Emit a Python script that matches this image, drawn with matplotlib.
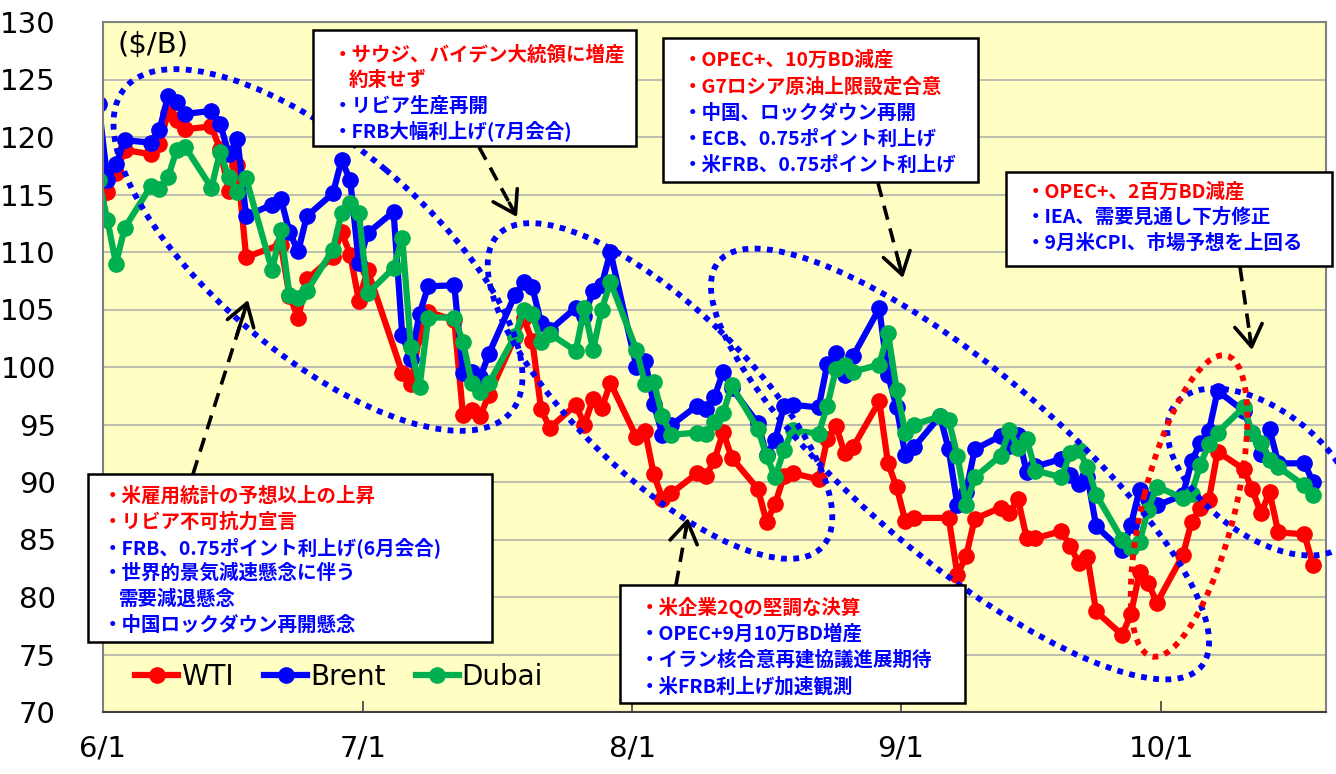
import numpy as np
import pandas as pd
import matplotlib
matplotlib.use('Agg')
import matplotlib.pyplot as plt
from matplotlib.patches import Ellipse, Rectangle

plt.rcParams['font.family'] = ['DejaVu Sans', 'Noto Sans CJK JP']
JP = ['Noto Sans CJK JP', 'DejaVu Sans']

# 営業日 (2022/5/31 - 10/18)
dates = pd.bdate_range('2022-05-31', '2022-10-18')

# WTI ($/B)  nan = 米国休場
wti = [114.67,
       # 6月
       115.26, 116.87, 118.87, 118.50, 119.41, 122.11, 121.51, 120.67, 120.93, 118.93, 115.31,
       117.59, 109.56, np.nan, 110.65, 106.19, 104.27, 107.62, 109.57, 111.76, 109.78, 105.76,
       # 7月
       108.43, np.nan, 99.50, 98.53, 102.73, 104.79, 104.09, 95.84, 96.30, 95.78, 97.59,
       102.60, 104.22, 102.26, 96.35, 94.70, 96.70, 94.98, 97.26, 96.42, 98.62,
       # 8月
       93.89, 94.42, 90.66, 88.54, 89.01, 90.76, 90.50, 91.93, 94.34, 92.09, 89.41, 86.53,
       88.11, 90.50, 90.77, 90.23, 93.74, 94.89, 92.52, 93.06, 97.01, 91.64, 89.55,
       # 9月
       86.61, 86.87, np.nan, 86.88, 81.94, 83.54, 86.79, 87.78, 87.31, 88.48, 85.10, 85.11,
       85.73, 84.45, 82.94, 83.49, 78.74, 76.71, 78.50, 82.15, 81.23, 79.49,
       # 10月
       83.63, 86.52, 87.76, 88.45, 92.64, 91.13, 89.35, 87.27, 89.11, 85.61, 85.46, 82.82]

brent = [122.84,
         116.29, 117.61, 119.72, 119.51, 120.57, 123.58, 123.07, 122.01, 122.27, 121.17, 118.51,
         119.81, 113.12, 114.13, 114.65, 111.74, 110.05, 113.12, 115.09, 117.98, 116.26, 109.03,
         111.63, 113.50, 102.77, 100.69, 104.65, 107.02, 107.10, 99.49, 99.57, 99.10, 101.16,
         106.27, 107.35, 106.92, 103.86, 103.20, 105.15, 104.40, 106.62, 107.14, 110.01,
         100.03, 100.54, 96.78, 94.12, 94.92, 96.65, 96.31, 97.40, 99.60, 98.15, 95.10, 92.34,
         93.65, 96.59, 96.72, 96.48, 100.22, 101.22, 99.34, 100.99, 105.09, 99.31, 96.49,
         92.36, 93.02, 95.74, 92.83, 88.00, 89.15, 92.84, 94.00, 93.17, 94.10, 90.84, 91.35,
         92.00, 90.62, 89.83, 90.46, 86.15, 84.06, 86.27, 89.32, 88.49, 87.96,
         88.86, 91.80, 93.37, 94.42, 97.92, 96.19, 94.29, 92.45, 94.57, 91.63, 91.62, 90.03]

dubai = [116.3,
         112.8, 109.0, 112.1, 115.7, 115.5, 116.5, 118.9, 119.1, 115.6, 118.7, 116.5,
         115.2, 116.4, 108.4, 111.9, 106.3, 106.0, 106.6, 110.2, 113.4, 114.3, 113.4,
         106.4, 108.6, 111.2, 101.7, 98.3, 104.3, 104.3, 102.2, 98.6, 97.8, 98.6,
         102.7, 105.0, 104.6, 102.2, 102.9, 101.4, 105.1, 101.5, 105.0, 107.4,
         101.5, 98.5, 98.7, 95.7, 94.1, 94.3, 94.2, 95.2, 96.0, 98.4, 94.6, 92.3,
         90.4, 92.8, 94.5, 94.2, 96.6, 99.8, 100.2, 99.6, 100.2, 103.0, 98.0,
         94.3, 95.0, 95.7, 95.4, 92.3, 88.0, 90.4, 92.3, 94.5, 93.0, 93.7, 91.0,
         90.4, 92.5, 92.8, 91.3, 88.9, 85.0, 84.3, 84.8, 87.6, 89.6,
         88.6, 89.0, 91.5, 93.3, 94.3, 96.5, 94.3, 93.4, 91.9, 91.3, 89.7, 88.9]

series = [('WTI', wti, '#FF0000'), ('Brent', brent, '#0000FF'), ('Dubai', dubai, '#00B050')]

W, H = 1336, 774
fig = plt.figure(figsize=(W / 100, H / 100), dpi=100)
L, R, T, B = 103, 1326, 22, 712
ax = fig.add_axes([L / W, 1 - B / H, (R - L) / W, (B - T) / H])
ax.set_facecolor('#FFFFC4')

xpos = dates + pd.Timedelta(hours=12)
for name, vals, col in series:
    s = pd.Series(vals, index=xpos).dropna()
    ax.plot(s.index, s.values, color=col, lw=4.5, marker='o', ms=11, label=name)

ax.set_xlim(pd.Timestamp('2022-06-01'), pd.Timestamp('2022-10-20'))
ax.set_ylim(70, 130)
ax.set_yticks(range(70, 131, 5))
ax.yaxis.grid(True, color='#BFBFB0', lw=1.5)
ax.set_axisbelow(True)
ticks = pd.to_datetime(['2022-06-01', '2022-07-01', '2022-08-01', '2022-09-01', '2022-10-01'])
ax.set_xticks(ticks)
ax.set_xticklabels(['6/1', '7/1', '8/1', '9/1', '10/1'])
ax.tick_params(axis='x', direction='in', length=8, width=1.2, color='#404040', pad=16, labelsize=21)
ax.tick_params(axis='y', length=0, pad=34, labelsize=21)
for sp in ax.spines.values():
    sp.set_color('#808080')
    sp.set_linewidth(1.5)
ax.spines['bottom'].set_color('#404040')

ax.text(0.012, 0.966, '($/B)', transform=ax.transAxes, fontsize=21, va='center')

ax.legend(loc='center left', bbox_to_anchor=(135 / W, 1 - 677 / H), bbox_transform=fig.transFigure,
          ncol=3, frameon=False, fontsize=20, borderpad=0, borderaxespad=0,
          handlelength=1.55, handletextpad=0.1, columnspacing=1.1)

# 注釈用レイヤー (ピクセル座標)
ov = fig.add_axes([0, 0, 1, 1], zorder=5)
ov.set_xlim(0, W)
ov.set_ylim(H, 0)
ov.axis('off')
ov.patch.set_alpha(0)

ellipses = [((318, 250), 252, 105, 40, '#0000FF'),
            ((660, 391), 225, 85, 44, '#0000FF'),
            ((960, 464), 315, 96, 40, '#0000FF'),
            ((1262, 472), 110, 62, 38, '#0000FF'),
            ((1189, 506), 155, 46, -76, '#FF0000')]
for c, a, b, ang, col in ellipses:
    ov.add_patch(Ellipse(c, 2 * a, 2 * b, angle=ang, fill=False, ec=col, lw=4.2,
                         ls=(0, (1, 1.1)), capstyle='butt'))

arrows = [((479, 147), (517, 217)), ((878, 183), (903, 278)), ((1240, 267), (1252, 350)),
          ((193, 474), (248, 300)), ((676, 585), (688, 518))]
for (x0, y0), (x1, y1) in arrows:
    ov.plot([x0, x1 - 0.08 * (x1 - x0)], [y0, y1 - 0.08 * (y1 - y0)], color='black', lw=2.6,
            ls=(0, (4, 2.5)))
    ov.annotate('', xy=(x1, y1), xytext=(x1 - 0.2 * (x1 - x0), y1 - 0.2 * (y1 - y0)),
                arrowprops=dict(arrowstyle='->,head_length=0.7,head_width=0.45', lw=2.6,
                                color='black', mutation_scale=22, shrinkA=0, shrinkB=0))

RED, BLUE = '#FF0000', '#0000FF'
# (行のy, 字下げ, 文字列, 色)
boxes = [((313, 30, 636, 146), 333, [(55, 0, '・サウジ、バイデン大統領に増産', RED),
                                      (80, 16, '約束せず', RED),
                                      (106, 0, '・リビア生産再開', BLUE),
                                      (131, 0, '・FRB大幅利上げ(7月会合)', BLUE)]),
         ((663, 38, 978, 182), 683, [(60, 0, '・OPEC+、10万BD減産', RED),
                                     (87, 0, '・G7ロシア原油上限設定合意', RED),
                                     (113, 0, '・中国、ロックダウン再開', BLUE),
                                     (139, 0, '・ECB、0.75ポイント利上げ', BLUE),
                                     (165, 0, '・米FRB、0.75ポイント利上げ', BLUE)]),
         ((1006, 172, 1332, 266), 1026, [(192, 0, '・OPEC+、2百万BD減産', RED),
                                         (217, 0, '・IEA、需要見通し下方修正', BLUE),
                                         (243, 0, '・9月米CPI、市場予想を上回る', BLUE)]),
         ((88, 474, 492, 642), 103, [(496, 0, '・米雇用統計の予想以上の上昇', RED),
                                     (522, 0, '・リビア不可抗力宣言', RED),
                                     (548, 0, '・FRB、0.75ポイント利上げ(6月会合)', BLUE),
                                     (573, 0, '・世界的景気減速懸念に伴う', BLUE),
                                     (599, 16, '需要減退懸念', BLUE),
                                     (625, 0, '・中国ロックダウン再開懸念', BLUE)]),
         ((620, 585, 965, 703), 640, [(608, 0, '・米企業2Qの堅調な決算', RED),
                                      (634, 0, '・OPEC+9月10万BD増産', BLUE),
                                      (660, 0, '・イラン核合意再建協議進展期待', BLUE),
                                      (687, 0, '・米FRB利上げ加速観測', BLUE)])]
for (x0, y0, x1, y1), tx, lines in boxes:
    ov.add_patch(Rectangle((x0, y0), x1 - x0, y1 - y0, fc='white', ec='black', lw=1.8, zorder=6))
    for ty, ind, txt, col in lines:
        ov.text(tx + ind, ty, txt, color=col, fontsize=14, fontweight='bold', family=JP,
                va='center', ha='left', zorder=7)

fig.savefig('out.png', dpi=100)
